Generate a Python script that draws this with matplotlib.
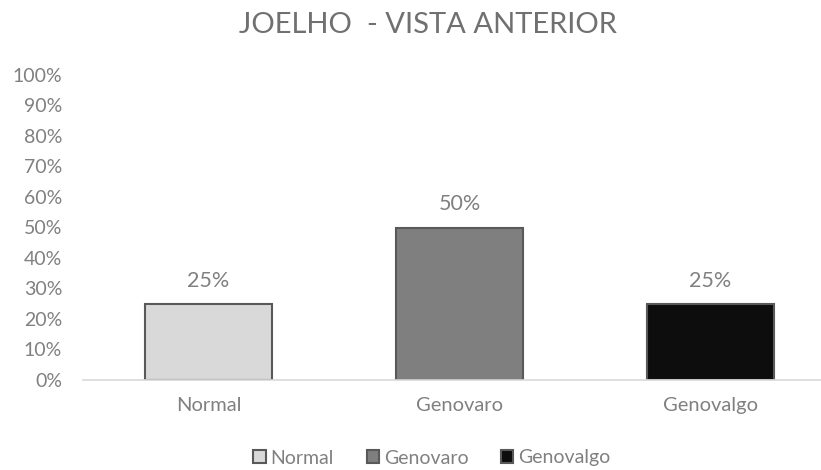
import matplotlib
matplotlib.use("Agg")
import matplotlib.pyplot as plt
import numpy as np
from matplotlib.ticker import PercentFormatter

# --- data ---
categories = ['Normal', 'Genovaro', 'Genovalgo']
shares = [0.25, 0.50, 0.25]
bar_colors = ['#d9d9d9', '#7f7f7f', '#0d0d0d']
yticks = np.arange(0, 1.01, 0.1)

TITLE = 'JOELHO  - VISTA ANTERIOR'
TEXT_GREY = '#808080'

plt.rcParams['font.family'] = ['Lato', 'DejaVu Sans']

W, H = 821, 470
fig = plt.figure(figsize=(W / 100, H / 100), dpi=100)

# plot area in pixels
left, right, top, bottom = 83, 821, 75, 380
ax = fig.add_axes([left / W, 1 - bottom / H, (right - left) / W, (bottom - top) / H])

x = np.arange(len(categories))
bars = ax.bar(x, shares, width=0.505, color=bar_colors, edgecolor='#595959',
              linewidth=1.5, label=categories)

for rect, v in zip(bars, shares):
    ax.text(rect.get_x() + rect.get_width() / 2, v + 0.056, f'{v:.0%}',
            ha='center', va='baseline', fontsize=15.5, color=TEXT_GREY)

ax.set_xlim(-0.5, -0.5 + (right - left) / 251)
ax.set_ylim(0, 1)
ax.set_yticks(yticks)
ax.yaxis.set_major_formatter(PercentFormatter(1.0, decimals=0))
ax.set_xticks(x)
ax.set_xticklabels(categories)
ax.tick_params(axis='both', length=0, colors=TEXT_GREY)
ax.tick_params(axis='y', pad=15, labelsize=14)
ax.tick_params(axis='x', pad=12, labelsize=14.5)

for side in ['top', 'right', 'left']:
    ax.spines[side].set_visible(False)
ax.spines['bottom'].set_color('#d9d9d9')
ax.spines['bottom'].set_linewidth(1.2)

fig.text(428 / W, 1 - 33 / H, TITLE, ha='center', va='baseline',
         fontsize=21, color='#707070')

leg = fig.legend(handles=list(bars), labels=categories, loc='center',
                 bbox_to_anchor=(432 / W, 1 - 458 / H), ncol=3, frameon=False,
                 fontsize=14, handlelength=0.62, handleheight=0.62,
                 handletextpad=0.25, columnspacing=1.7)
for t in leg.get_texts():
    t.set_color(TEXT_GREY)

fig.savefig('out.png', dpi=100)
